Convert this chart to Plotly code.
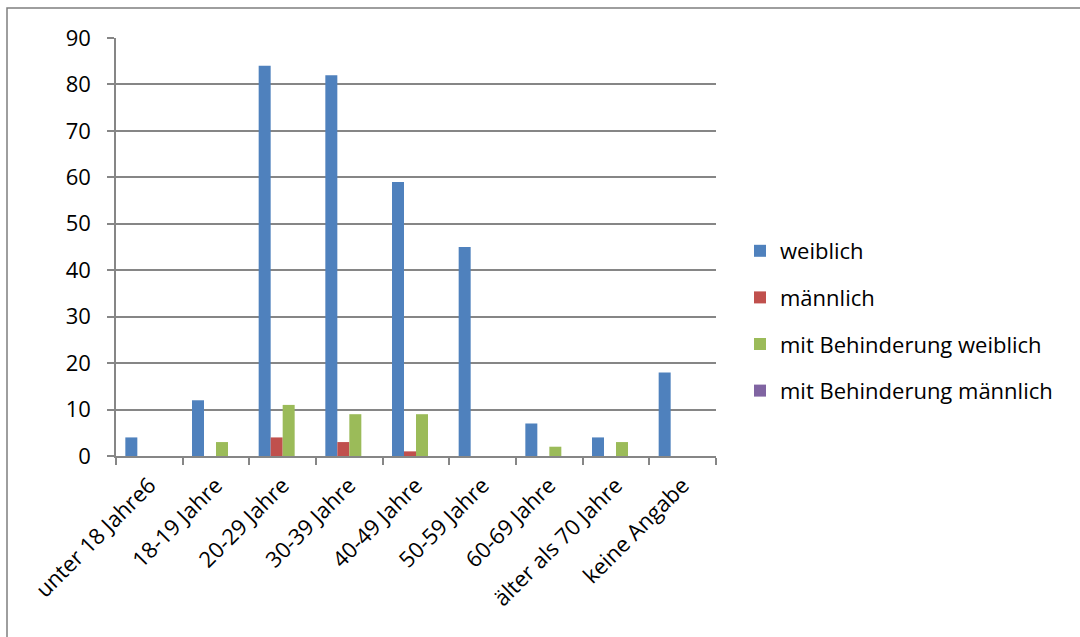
import plotly.graph_objects as go

categories = ["unter 18 Jahre6", "18-19 Jahre", "20-29 Jahre", "30-39 Jahre", "40-49 Jahre",
              "50-59 Jahre", "60-69 Jahre", "älter als 70 Jahre", "keine Angabe"]
weiblich = [4, 12, 84, 82, 59, 45, 7, 4, 18]
maennlich = [0, 0, 4, 3, 1, 0, 0, 0, 0]
beh_weiblich = [0, 3, 11, 9, 9, 0, 2, 3, 0]
beh_maennlich = [0, 0, 0, 0, 0, 0, 0, 0, 0]

series_names = ["weiblich", "männlich", "mit Behinderung weiblich", "mit Behinderung männlich"]
series_values = [weiblich, maennlich, beh_weiblich, beh_maennlich]
colors = ["#4F81BD", "#C0504D", "#9BBB59", "#8064A2"]

FONT = "'Open Sans', Calibri, Carlito, sans-serif"
FS = 22
GRID = "#868686"

fig = go.Figure()
for i, (name, vals, col) in enumerate(zip(series_names, series_values, colors)):
    fig.add_trace(go.Bar(
        x=categories, y=vals, name=name,
        marker=dict(color=col, line=dict(width=0)),
        legendgroup=f"g{i}",
    ))

W, H = 1080, 637
L, R, T, B = 116, 364, 38, 181
pw, ph = W - L - R, H - T - B

def px_x(x):
    return (x - L) / pw

def px_y(y):
    return (H - B - y) / ph

fig.update_layout(
    width=W, height=H,
    margin=dict(l=L, r=R, t=T, b=B),
    paper_bgcolor="white", plot_bgcolor="white",
    font=dict(family=FONT, size=FS, color="#000000"),
    barmode="group", bargap=0.28, bargroupgap=0,
    showlegend=True,
    legend=dict(
        x=px_x(740), y=px_y(230), xanchor="left", yanchor="top",
        font=dict(family=FONT, size=FS, color="#000000"),
        tracegroupgap=15, traceorder="grouped",
        bgcolor="rgba(0,0,0,0)",
    ),
    xaxis=dict(
        type="category", showline=True, linecolor=GRID, linewidth=1.5,
        ticks="outside", tickson="boundaries", ticklen=7, tickcolor=GRID, tickwidth=1.5,
        tickangle=-45, showgrid=False, zeroline=False,
        ticklabelstandoff=6,
        tickfont=dict(family=FONT, size=FS, color="#000000"),
    ),
    yaxis=dict(
        range=[0, 90], dtick=10, tick0=0,
        showline=True, linecolor=GRID, linewidth=1.5,
        ticks="outside", ticklen=7, tickcolor=GRID, tickwidth=1.5,
        showgrid=True, gridcolor=GRID, gridwidth=1.5, zeroline=False,
        ticklabelstandoff=12,
        tickfont=dict(family=FONT, size=FS, color="#000000"),
    ),
    shapes=[dict(
        type="rect", xref="paper", yref="paper",
        x0=px_x(7), x1=px_x(1095), y0=px_y(660), y1=px_y(8),
        line=dict(color="#7F7F7F", width=1.5), fillcolor="rgba(0,0,0,0)", layer="below",
    )],
)

fig.write_html("out.html")
